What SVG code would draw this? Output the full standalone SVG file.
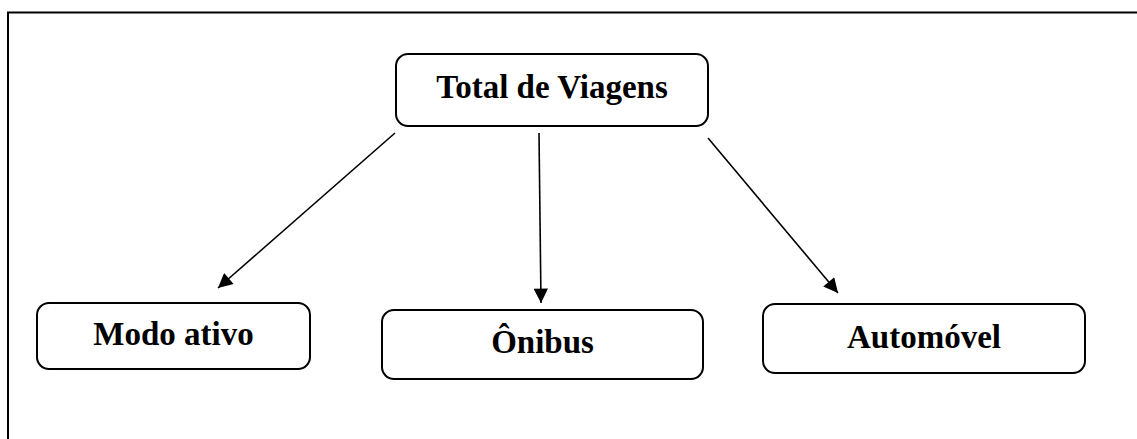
<svg xmlns="http://www.w3.org/2000/svg" width="1137" height="439" viewBox="0 0 1137 439">
<style>
.box{fill:#fff;stroke:#000;stroke-width:2}
.lbl{font-family:"Liberation Serif","Times New Roman",serif;font-weight:bold;font-size:33px;fill:#000;text-anchor:middle}
.con{stroke:#000;stroke-width:1.6;fill:none}
</style>
<defs>
<marker id="ah" viewBox="0 0 10 10" refX="10" refY="5" markerWidth="10" markerHeight="9" markerUnits="strokeWidth" orient="auto">
<path d="M0,0 L10,5 L0,10 z" fill="#000"/>
</marker>
</defs>
<rect width="1137" height="439" fill="#fff"/>
<g id="frame">
<path d="M8,439 L8,12.5 L1137,12.5" fill="none" stroke="#000" stroke-width="2"/>
</g>
<g id="connectors">
<line class="con" x1="395" y1="133" x2="218" y2="288" marker-end="url(#ah)"/>
<line class="con" x1="539" y1="133" x2="541" y2="303" marker-end="url(#ah)"/>
<line class="con" x1="708" y1="138" x2="838" y2="293" marker-end="url(#ah)"/>
</g>
<g id="total">
<rect class="box" x="396" y="54" width="312" height="72" rx="12"/>
<text class="lbl" x="552" y="98">Total de Viagens</text>
</g>
<g id="modo">
<rect class="box" x="37" y="303" width="273" height="66" rx="12"/>
<text class="lbl" x="173.5" y="345">Modo ativo</text>
</g>
<g id="onibus">
<rect class="box" x="382" y="310" width="321" height="69" rx="12"/>
<text class="lbl" x="542.5" y="353">Ônibus</text>
</g>
<g id="automovel">
<rect class="box" x="763" y="304" width="322" height="69" rx="12"/>
<text class="lbl" x="924" y="348">Automóvel</text>
</g>
</svg>
